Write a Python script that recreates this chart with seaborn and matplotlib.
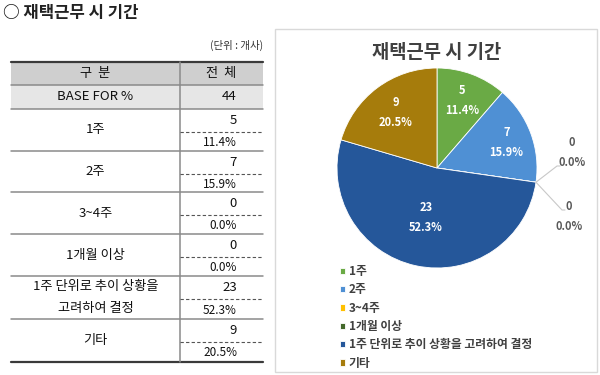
import matplotlib.pyplot as plt
import numpy as np
import seaborn as sns

# data
CATEGORIES = ['1주', '2주', '3~4주', '1개월 이상', '1주 단위로 추이 상황을 고려하여 결정', '기타']
TABLE_LABELS = ['1주', '2주', '3~4주', '1개월 이상', '1주 단위로 추이 상황을\n고려하여 결정', '기타']
COUNTS = [5, 7, 0, 0, 23, 9]
PCTS = [11.4, 15.9, 0.0, 0.0, 52.3, 20.5]
BASE = 44
TITLE = '재택근무 시 기간'

COLORS = ['#6aaa45', '#4f90d4', '#ffc000', '#43682b', '#25579a', '#a67c0c']

sns.set_theme(style='white')
plt.rcParams['font.family'] = ['Noto Sans CJK KR', 'DejaVu Sans']

fig = plt.figure(figsize=(6, 3.75), dpi=100)
fig.patch.set_facecolor('white')

# pixel-coordinate canvas for the table and texts
bg = fig.add_axes([0, 0, 1, 1])
bg.set_xlim(0, 600)
bg.set_ylim(375, 0)
bg.axis('off')

bg.text(3, 13, '○ ' + TITLE, fontsize=12, fontweight='bold', color='#222222', va='center', ha='left')
bg.text(263, 45, '(단위 : 개사)', fontsize=7.5, color='#333333', va='center', ha='right')

# ---- table ----
x_left, x_mid, x_right = 11, 180, 263
x_lab = (x_left + x_mid) / 2
x_num = 237
row_tops = [109, 151, 192, 234, 276, 319, 362]

bg.fill_between([x_left, x_right], 62, 85, color='#cfcfcf', lw=0)
bg.fill_between([x_left, x_right], 85, 109, color='#e6e6e6', lw=0)

for y in [85, 109] + row_tops[1:-1]:
    bg.plot([x_left, x_right], [y, y], color='#8a8a8a', lw=1.1)
for y in [62, 362]:
    bg.plot([x_left, x_right], [y, y], color='#3a3a3a', lw=1.6)
bg.plot([x_mid, x_mid], [62, 362], color='#8a8a8a', lw=1.1)

tkw = dict(fontsize=9.5, color='#111111', va='center')
bg.text(x_lab, 73.5, '구  분', ha='center', **tkw)
bg.text((x_mid + x_right) / 2, 73.5, '전  체', ha='center', **tkw)
bg.text(x_lab, 97, 'BASE FOR %', ha='center', **tkw)
bg.text(x_num, 97, str(BASE), ha='right', **tkw)

for i, (lab, n, p) in enumerate(zip(TABLE_LABELS, COUNTS, PCTS)):
    top, bot = row_tops[i], row_tops[i + 1]
    dash = top + 23
    bg.plot([x_mid, x_right], [dash, dash], color='#555555', lw=0.8, ls=(0, (3, 2)))
    bg.text(x_lab, (top + bot) / 2, lab, ha='center', linespacing=1.9, **tkw)
    bg.text(x_num, (top + dash) / 2, str(n), ha='right', **tkw)
    bg.text(x_num, (dash + bot) / 2 + 1, f'{p:.1f}%', ha='right', fontsize=8.5, color='#111111', va='center')

# ---- chart panel ----
bg.add_patch(plt.Rectangle((275, 29), 322, 343, fill=False, edgecolor='#d9d9d9', lw=1))
bg.text(437, 52, TITLE, fontsize=13.5, fontweight='bold', color='#404040', ha='center', va='center')

pax = fig.add_axes([337 / 600, (375 - 268) / 375, 200 / 600, 200 / 375])
wedges, _ = pax.pie(COUNTS, colors=COLORS, startangle=90, counterclock=False, radius=1,
                    wedgeprops=dict(edgecolor='white', linewidth=0.6))
pax.set_xlim(-1, 1)
pax.set_ylim(-1, 1)
pax.axis('off')

label_r = [0.72, 0.74, 0, 0, 0.51, 0.69]
total = sum(COUNTS)
cum = np.cumsum([0] + COUNTS)
for i, (n, p) in enumerate(zip(COUNTS, PCTS)):
    mid = np.deg2rad(90 - (cum[i] + n / 2) / total * 360)
    if n > 0:
        r = label_r[i]
        pax.text(r * np.cos(mid), r * np.sin(mid), f'{n}\n{p:.1f}%', color='white',
                 fontsize=8, fontweight='bold', ha='center', va='center', linespacing=1.7)

# leader lines for the two empty slices
ang = np.deg2rad(90 - cum[2] / total * 360)
ex, ey = np.cos(ang), np.sin(ang)
zero_ends = [(1.20, 0.02), (1.25, -0.42)]
zero_text = [(1.35, 0.15), (1.32, -0.49)]
for (lx, ly), (tx, ty), p in zip(zero_ends, zero_text, PCTS[2:4]):
    pax.plot([ex, lx, lx + 0.03], [ey, ly, ly], color='#c8c8c8', lw=0.8, clip_on=False)
    pax.text(tx, ty, f'0\n{p:.1f}%', color='#595959', fontsize=8, fontweight='bold',
             ha='center', va='center', linespacing=1.7, clip_on=False)

fig.legend(wedges, CATEGORIES, loc='upper left', bbox_to_anchor=(340 / 600, 1 - 265 / 375),
           frameon=False, handlelength=0.45, handleheight=0.45, handletextpad=0.3,
           labelspacing=0.45, borderaxespad=0, borderpad=0, labelcolor='#404040',
           prop={'weight': 'bold', 'size': 8.5})

fig.savefig('out.png', dpi=100, facecolor='white')
